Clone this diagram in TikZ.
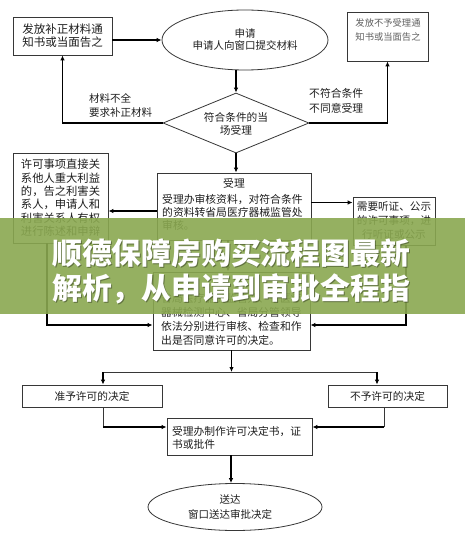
\documentclass[tikz,border=0pt]{standalone}
\usepackage{fontspec}
\setmainfont{Noto Sans CJK SC}
\usetikzlibrary{shapes.geometric,arrows.meta}
\definecolor{bannergreen}{RGB}{138,168,80}
\definecolor{edge}{RGB}{55,55,55}
\definecolor{ink}{RGB}{30,30,30}
\begin{document}
\begin{tikzpicture}[x=1pt,y=-1pt,
  box/.style={draw=edge,line width=0.8pt,inner sep=0pt},
  arr/.style={-{Latex[length=5pt,width=4.5pt]},line width=1.1pt,black},
  thinln/.style={line width=0.8pt,edge},
  txt/.style={font=\fontsize{10.8}{13.5}\selectfont,text=ink,inner sep=0pt},
  bantxt/.style={font=\fontsize{29.8}{30}\selectfont\bfseries,text=white,inner sep=0pt,anchor=base west},
  banshadow/.style={font=\fontsize{29.8}{30}\selectfont\bfseries,text=black,text opacity=0.35,inner sep=0pt,anchor=base west},
]
\useasboundingbox[fill=white] (0,0) rectangle (465,535);

% top row
\node[box,minimum width=99pt,minimum height=38pt,txt,align=left,font=\fontsize{11.5}{13}\selectfont] (n1) at (62.5,36) {发放补正材料通\\知书或当面告之};
\node[box,ellipse,minimum width=166pt,minimum height=60pt,txt,align=center,font=\fontsize{10.5}{12}\selectfont] (app) at (245,40) {申请\\申请人向窗口提交材料};
\node[box,minimum width=81pt,minimum height=49pt] (n3) at (387.5,36.5) {};
\node[txt,font=\fontsize{9.3}{14}\selectfont,text=gray!75!black,align=left] (n3t) at (388,30) {发放不予受理通\\知书或当面告之};

% decision
\node[box,diamond,minimum width=146pt,minimum height=60pt] (dia) at (236,123) {};
\node[txt,align=center,font=\fontsize{10.7}{13}\selectfont] (diat) at (236,123.5) {符合条件的当\\场受理};
\node[txt,anchor=west,align=left,font=\fontsize{10.5}{14}\selectfont] (lab1) at (89,105) {材料不全\\要求补正材料};
\node[txt,anchor=west,align=left,font=\fontsize{10.8}{15}\selectfont] (lab2) at (309,100.5) {不符合条件\\不同意受理};

% accept box
\node[box,minimum width=154pt,minimum height=67pt] (acc) at (234,206.5) {};
\node[txt] (acct) at (234,183) {受理};
\node[txt,anchor=west,align=left,font=\fontsize{10.8}{13}\selectfont] (accb) at (162,212) {受理办审核资料，对符合条件\\的资料转省局医疗器械监管处\\审核。};

% side boxes
\node[box,minimum width=95pt,minimum height=90pt,txt,align=left,font=\fontsize{11.3}{13.4}\selectfont] (lb) at (60.5,198) {许可事项直接关\\系他人重大利益\\的，告之利害关\\系人，申请人和\\利害关系人有权\\进行陈述和申辩};
\node[box,minimum width=82pt,minimum height=48pt,txt,align=center,font=\fontsize{10.6}{14}\selectfont] (rb) at (394,221) {需要听证、公示\\的许可事项，进\\行听证或公示};

% review box
\node[box,minimum width=157pt,minimum height=78pt] (rev) at (231.5,311) {};
\node[txt,anchor=west,align=left,font=\fontsize{10.8}{14}\selectfont] (revt) at (161,319) {省局医疗器械监管处、省医疗\\器械检测中心、省局分管领导\\依法分别进行审核、检查和作\\出是否同意许可的决定。};

% decisions
\node[box,minimum width=140pt,minimum height=22pt,txt,font=\fontsize{10.7}{13}\selectfont] (ok) at (92,396) {准予许可的决定};
\node[box,minimum width=119pt,minimum height=22pt,txt,font=\fontsize{10.7}{13}\selectfont] (no) at (387.5,396) {不予许可的决定};

% final
\node[box,minimum width=145pt,minimum height=37pt] (fin) at (239.5,436.5) {};
\node[txt,anchor=west,align=left,font=\fontsize{10.75}{12.5}\selectfont] (fint) at (172,438) {受理办制作许可决定书，证\\书或批件};
\node[box,ellipse,minimum width=174pt,minimum height=47pt] (del) at (235,507) {};
\node[txt,align=center,font=\fontsize{10.5}{15}\selectfont] (delt) at (230,507.5) {送达\\窗口送达审批决定};

% connectors
\draw[arr] (app.west -| n1.east) -- (app.west);
\draw[arr] (dia.north |- app.south) -- (dia.north);
\draw[arr] (dia.west) -| (n1.south);
\draw[arr] (dia.east) -| (n3.south);
\draw[arr] (dia.south) -- (dia.south |- acc.north);
\draw[arr] ([yshift=-4.5pt]acc.west) -- ([yshift=-4.5pt]acc.west -| lb.east);
\draw[arr] ([yshift=4pt]acc.east) -- ([yshift=4pt]acc.east -| rb.west);
\draw[arr] ([xshift=-6pt]acc.south) -- ([xshift=-6pt]acc.south |- rev.north);
\draw[arr] ([xshift=-13.5pt]lb.south) |- ([yshift=-14pt]rev.west);
\draw[arr] ([xshift=12pt]rb.south) |- ([yshift=-14pt]rev.east);
\coordinate (sp) at (231.5,372);
\draw[arr] (rev.south) -- (sp);
\draw[thinln] ([xshift=11pt]ok.north |- sp) -- ([xshift=-10.5pt]no.north |- sp);
\draw[arr] ([xshift=11pt]ok.north |- sp) -- ([xshift=11pt]ok.north);
\draw[arr] ([xshift=-10.5pt]no.north |- sp) -- ([xshift=-10.5pt]no.north);
\draw[thinln] ([xshift=11pt]ok.south) -- ([xshift=11pt]ok.south |- 0,427);
\draw[arr] ([xshift=11pt]ok.south |- 0,427) -- ([yshift=9.5pt]fin.west);
\draw[thinln] ([xshift=-3.5pt]no.south) -- ([xshift=-3.5pt]no.south |- 0,427);
\draw[arr] ([xshift=-3.5pt]no.south |- 0,427) -- ([yshift=9.5pt]fin.east);
\draw[arr] ([xshift=-8.5pt]fin.south) -- ([xshift=-8.5pt]fin.south |- del.north);

% banner overlay
\fill[bannergreen,fill opacity=0.9] (0,218) rectangle (465,314);
\node[banshadow] (bs1) at (53,265.5) {顺德保障房购买流程图最新};
\node[banshadow] (bs2) at (53,300.5) {解析，从申请到审批全程指};
\node[bantxt] (bt1) at (52,264.5) {顺德保障房购买流程图最新};
\node[bantxt] (bt2) at (52,299.5) {解析，从申请到审批全程指};
\end{tikzpicture}
\end{document}
